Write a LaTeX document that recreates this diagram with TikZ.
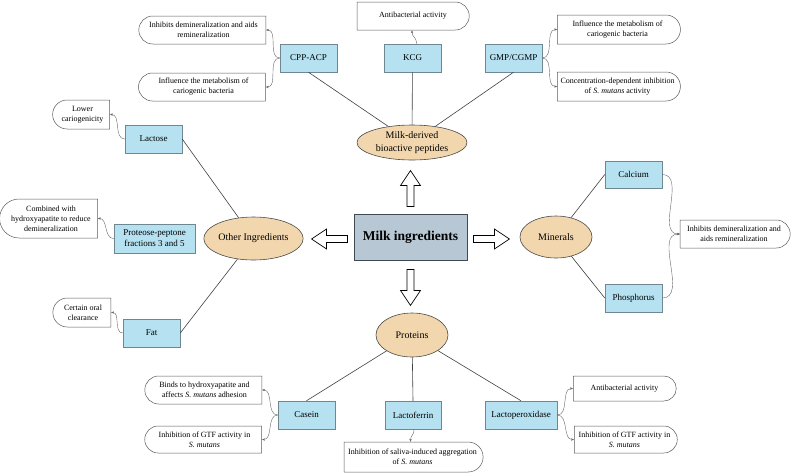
\documentclass[tikz,border=0pt]{standalone}
\usepackage{fontspec}
\setmainfont{Liberation Serif}
\usetikzlibrary{shapes.geometric,shapes.misc,arrows.meta,calc}
\definecolor{corefill}{HTML}{B7C7D3}
\definecolor{coreline}{HTML}{3F4A55}
\definecolor{grpfill}{HTML}{F2D7AE}
\definecolor{grpline}{HTML}{4A4A4A}
\definecolor{itemfill}{HTML}{B5E1F0}
\definecolor{itemline}{HTML}{6F8790}
\definecolor{effline}{HTML}{5A5A5A}

\begin{document}
\begin{tikzpicture}[x=1pt,y=-1pt,
    core/.style={draw=coreline,line width=0.9pt,fill=corefill,inner sep=0pt,
        minimum width=113pt,minimum height=46pt,font=\fontsize{13.5}{16}\selectfont\bfseries},
    group/.style={ellipse,draw=grpline,line width=0.6pt,fill=grpfill,inner sep=0pt,
        align=center,font=\fontsize{10}{13}\selectfont},
    item/.style={draw=itemline,fill=itemfill,line width=0.5pt,inner sep=0pt,align=center,
        minimum width=57pt,minimum height=28pt,font=\fontsize{9}{11}\selectfont},
    eff/.style={rounded rectangle,draw=effline,line width=0.5pt,fill=white,inner sep=0pt,
        align=center,font=\fontsize{8}{10}\selectfont},
    effl/.style={eff,rounded rectangle east arc=none},
    effr/.style={eff,rounded rectangle west arc=none},
    link/.style={draw=black!75,line width=0.6pt},
    hint/.style={draw=black!60,line width=0.4pt,-{Stealth[length=3pt,width=2.4pt]}},
    fatarrow/.pic={\draw[line width=0.7pt,fill=white] (0,-3.5) -- (21,-3.5) -- (21,-10)
        -- (36,0) -- (21,10) -- (21,3.5) -- (0,3.5) -- cycle;}]
    \useasboundingbox (0,0) rectangle (791,472);

    % Centre and the four groups
    \node[core] (milk) at (410.5,237) {Milk ingredients};
    \node[group,minimum width=110pt,minimum height=35pt] (pep) at (412,142.5) {Milk-derived\\bioactive peptides};
    \node[group,minimum width=89pt,minimum height=43pt] (oth) at (253.5,238.5) {Other Ingredients};
    \node[group,minimum width=72pt,minimum height=42pt] (mnr) at (556,237) {Minerals};
    \node[group,minimum width=72pt,minimum height=44pt] (prt) at (412,335) {Proteins};

    % Hollow arrows out of the centre
    \pic[rotate=90] at ($(milk.north)+(0,-7)$) {fatarrow};
    \pic[rotate=-90] at ($(milk.south)+(0,9)$) {fatarrow};
    \pic[rotate=180] at ($(milk.west)+(-6,2)$) {fatarrow};
    \pic at ($(milk.east)+(6,2)$) {fatarrow};

    % Peptides
    \node[item] (cpp) at (308.5,58) {CPP-ACP};
    \node[item] (kcg) at (412.5,58) {KCG};
    \node[item] (gmp) at (513.5,58) {GMP/CGMP};
    \node[effl,minimum width=127pt,minimum height=28pt] (cppA) at (203.5,30) {Inhibits demineralization and aids\\remineralization};
    \node[effl,minimum width=127pt,minimum height=28pt] (cppB) at (203.5,87) {Influence the metabolism of\\cariogenic bacteria};
    \node[effr,minimum width=112pt,minimum height=28pt] (kcgA) at (413,16) {Antibacterial activity};
    \node[effr,minimum width=123pt,minimum height=29pt] (gmpA) at (617.5,29.5) {Influence the metabolism of\\cariogenic bacteria};
    \node[effr,minimum width=123pt,minimum height=29pt] (gmpB) at (617.5,86.5) {Concentration-dependent inhibition\\of \emph{S. mutans} activity};

    % Other ingredients
    \node[item] (lac) at (153.5,139) {Lactose};
    \node[item,minimum width=81pt,minimum height=29pt] (ppf) at (154.5,238.5) {Proteose-peptone\\fractions 3 and 5};
    \node[item] (fat) at (151.5,333) {Fat};
    \node[effl,minimum width=57pt,minimum height=29pt] (lacA) at (82.5,114.5) {Lower\\cariogenicity};
    \node[effl,minimum width=98pt,minimum height=39pt] (ppfA) at (51,218.5) {Combined with\\hydroxyapatite to reduce\\demineralization};
    \node[effl,minimum width=58pt,minimum height=29pt] (fatA) at (83,312.5) {Certain oral\\clearance};

    % Minerals
    \node[item,minimum height=27pt] (cal) at (633.5,174.5) {Calcium};
    \node[item] (pho) at (633.5,298) {Phosphorus};
    \node[effr,minimum width=110pt,minimum height=28pt] (mnrA) at (734,234) {Inhibits demineralization and\\aids remineralization};

    % Proteins
    \node[item] (cas) at (306.5,415) {Casein};
    \node[item,minimum width=56pt] (lf) at (413,415) {Lactoferrin};
    \node[item,minimum width=72pt] (lpo) at (521,415) {Lactoperoxidase};
    \node[effl,minimum width=117pt,minimum height=28pt] (casA) at (204.5,390) {Binds to hydroxyapatite and\\affects \emph{S. mutans} adhesion};
    \node[effl,minimum width=117pt,minimum height=27pt] (casB) at (204.5,439.5) {Inhibition of GTF activity in\\\emph{S. mutans}};
    \node[effr,minimum width=139pt,minimum height=30pt] (lfA) at (412.5,457) {Inhibition of saliva-induced aggregation\\of \emph{S. mutans}};
    \node[effr,minimum width=103pt,minimum height=25pt] (lpoA) at (624.5,388.5) {Antibacterial activity};
    \node[effr,minimum width=103pt,minimum height=27pt] (lpoB) at (624.5,439.5) {Inhibition of GTF activity in\\\emph{S. mutans}};

    % Group to item lines
    \draw[link] (pep) -- (cpp.south);
    \draw[link] (pep) -- (kcg);
    \draw[link] (pep) -- (gmp.south);
    \draw[link] (oth) -- (lac.east);
    \draw[link] (oth) -- (fat.east);
    \draw[link] (mnr) -- (cal.west);
    \draw[link] (mnr) -- (pho.west);
    \draw[link] (prt) -- (cas.north);
    \draw[link] (prt) -- (lf.north);
    \draw[link] (prt) -- (lpo.north);

    % Item to effect arrows
    \draw[hint] (cpp.west) to[out=180,in=0] (cppA.east);
    \draw[hint] (cpp.west) to[out=180,in=0] (cppB.east);
    \draw[hint] ($(kcg.north)+(4,0)$) .. controls +(0,-7) and +(0,7) .. ($(kcgA.south)+(-1,0)$);
    \draw[hint] (gmp.east) to[out=0,in=180] (gmpA.west);
    \draw[hint] (gmp.east) to[out=0,in=180] (gmpB.west);
    \draw[hint] (lac.west) to[out=180,in=0] (lacA.east);
    \draw[hint] (ppf.west) to[out=180,in=0] (ppfA.east);
    \draw[hint] (fat.west) to[out=180,in=0] (fatA.east);
    \draw[hint] (cal.east) to[out=0,in=180] (mnrA.west);
    \draw[hint] (pho.east) to[out=0,in=180] (mnrA.west);
    \draw[hint] (cas.west) to[out=180,in=0] (casA.east);
    \draw[hint] (cas.west) to[out=180,in=0] (casB.east);
    \draw[hint] ($(lf.south)+(1,0)$) .. controls +(0,7) and +(0,-7) .. ($(lfA.north)+(-2,0)$);
    \draw[hint] (lpo.east) to[out=0,in=180] (lpoA.west);
    \draw[hint] (lpo.east) to[out=0,in=180] (lpoB.west);
\end{tikzpicture}
\end{document}
